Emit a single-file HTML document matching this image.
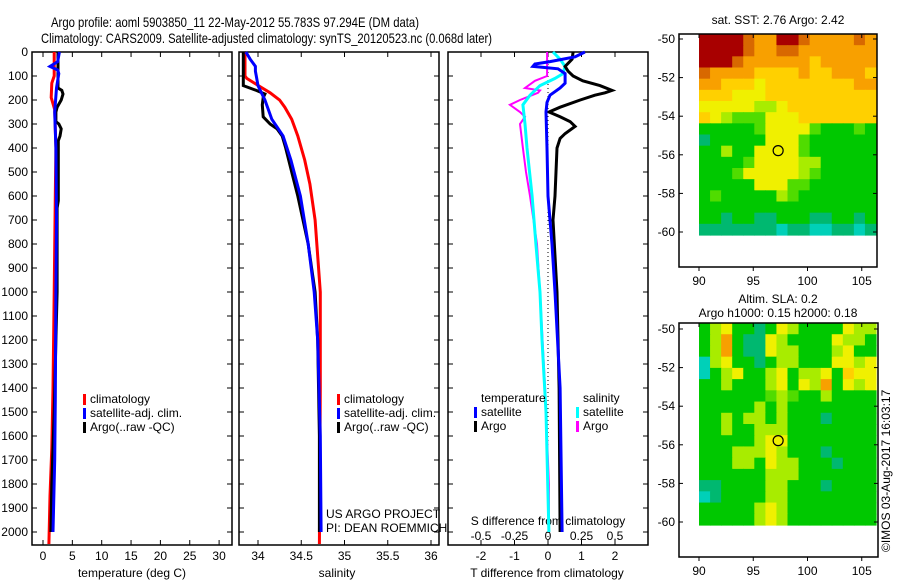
<!DOCTYPE html>
<html><head><meta charset="utf-8"><style>
html,body{margin:0;padding:0;background:#fff}
svg{display:block;font-family:"Liberation Sans",sans-serif}
</style></head><body>
<svg id="chart" width="900" height="580" viewBox="0 0 900 580" xmlns="http://www.w3.org/2000/svg">
<text x="51" y="27" font-size="14" textLength="368" lengthAdjust="spacingAndGlyphs">Argo profile: aoml 5903850_11 22-May-2012 55.783S 97.294E (DM data)</text>
<text x="41" y="43" font-size="14" textLength="451" lengthAdjust="spacingAndGlyphs">Climatology: CARS2009. Satellite-adjusted climatology: synTS_20120523.nc (0.068d later)</text>
<g id="g"></g>
</svg>
<script>
// ---------- data ----------
const depthTicks=[0,100,200,300,400,500,600,700,800,900,1000,1100,1200,1300,1400,1500,1600,1700,1800,1900,2000];
const tempTicks=[0,5,10,15,20,25,30];
const salTicks=[34,34.5,35,35.5,36];
const salTickLabels=["34","34.5","35","35.5","36"];
const tdiffTicks=[-2,-1,0,1,2];
const sdiffTicks=[-0.5,-0.25,0,0.25,0.5];
const sdiffTickLabels=["-0.5","-0.25","0","0.25","0.5"];

const tArgoDepth=[0,150,160,175,200,230,250,290,300,320,350,370,620,650,1000,1200,1500,1800,2000];
const tArgo=[2.55,2.55,3.2,3.4,3.1,2.4,2.2,2.2,2.7,3.1,2.9,2.6,2.6,2.4,2.4,2.2,1.9,1.5,1.35];
const tClimDepth=[0,100,130,190,240,400,600,1000,1400,1650,1850,2050];
const tClim=[1.9,1.9,1.5,1.4,2.0,2.2,2.1,1.9,1.7,1.5,1.2,1.0];
const tSatDepth=[0,40,60,75,90,150,250,400,700,1000,1450,1700,2000];
const tSat=[2.8,2.5,1.2,2.5,2.7,2.3,2.0,2.2,2.3,2.2,2.1,2.0,1.7];

const sArgoDepth=[0,140,160,175,190,220,270,300,320,350,400,500,600,700,800,900,1000,1200,1600,2000];
const sArgo=[33.83,33.83,33.98,34.08,34.06,34.05,34.06,34.14,34.22,34.28,34.32,34.39,34.46,34.52,34.58,34.62,34.66,34.69,34.71,34.71];
const sClimDepth=[0,100,110,150,170,200,230,280,350,450,550,700,850,1000,1400,2050];
const sClim=[33.85,33.85,33.87,34.05,34.14,34.25,34.31,34.39,34.46,34.54,34.60,34.66,34.69,34.72,34.72,34.71];
const sSatDepth=[0,30,60,80,100,140,200,280,350,450,600,800,1000,1200,1600,2000];
const sSat=[33.86,33.91,33.97,33.97,33.98,34.0,34.08,34.16,34.29,34.38,34.49,34.58,34.65,34.69,34.72,34.73];

const dTArgoDepth=[0,30,60,80,100,120,140,160,170,180,200,230,250,270,290,310,340,360,400,600,700,1000,1400,2000];
const dTArgo=[0.75,0.72,0.51,0.6,0.75,1.04,1.55,1.91,1.7,1.4,0.96,0.36,0.03,0.36,0.66,0.81,0.51,0.36,0.27,0.21,0.15,0.27,0.33,0.36];
const dTSatDepth=[0,20,40,50,60,70,90,130,150,180,210,250,400,600,800,1000,1400,2000];
const dTSat=[1.1,0.81,0.06,-0.39,-0.45,0.3,0.51,0.51,0.36,0.06,-0.03,-0.06,-0.03,0,0.12,0.21,0.36,0.42];
const dSSatDepth=[0,30,60,90,110,140,180,220,300,400,600,800,1000,1200,1500,2000];
const dSSat=[0.037,0.09,0.127,0.112,0.052,-0.06,-0.134,-0.187,-0.172,-0.157,-0.119,-0.09,-0.06,-0.045,-0.015,0.007];
const dSArgoDepth=[0,100,120,150,160,170,200,220,250,270,300,400,500,600,800,1000,1400,1800,2000];
const dSArgo=[-0.007,-0.007,-0.097,-0.172,-0.06,-0.075,-0.209,-0.284,-0.209,-0.172,-0.209,-0.187,-0.164,-0.134,-0.082,-0.06,-0.022,0.007,0.007];

const latTicks=[-50,-52,-54,-56,-58,-60];
const lonTicks=[90,95,100,105];
const sstGrid=["9999877998777787","9999877887777777","9998777777677777","8777766667667776","7766656666666677","6665556666666666","5555544566666666","6543335556666666","2222235555322232","1222225553222222","2242255553222222","2222355554422222","2223555554322222","2222255533222222","2322222432222222","2222222222222222","2212211222112212","1111111011001101"];
const slaGrid=["2452212542222544","2472115422225442","2472115442224522","0452212442225545","0245224524452655","2242224525472545","2222223432242222","2222242422222222","2242442422212222","2242244422222222","2222245522222222","2224445422212222","2224425442221222","2222224442222222","1122224422212222","0122224422222222","2222245422222222","2222245422222222"];
const argoLon=97.294, argoLat=-55.783;

// ---------- helpers ----------
const NS="http://www.w3.org/2000/svg";
const G=document.getElementById('g');
function el(tag,attrs,parent){const e=document.createElementNS(NS,tag);for(const k in attrs)e.setAttribute(k,attrs[k]);(parent||G).appendChild(e);return e;}
function txt(x,y,s,size,anchor,parent){const t=el('text',{x:x,y:y,'font-size':size||12,'text-anchor':anchor||'start'},parent);t.textContent=s;return t;}
const yD=d=>52+d*0.24;
const xT=v=>43+v*5.87;
const xS=v=>258+(v-34)*86.5;
const xDT=v=>548+v*33.5;
const xDS=v=>548+v*134;
const BOT=545, TOP=52;

function frame(x0,x1,name){
  const r=el('rect',{x:x0,y:TOP,width:x1-x0,height:BOT-TOP,fill:'none',stroke:'#000','stroke-width':1.5});
  
  
}
function line(xs,ds,sx,color,w,name){
  const p=el('polyline',{points:xs.map((v,i)=>sx(v).toFixed(1)+','+yD(ds[i]).toFixed(1)).join(' '),fill:'none',stroke:color,'stroke-width':w,'stroke-linejoin':'miter'});
  
  
}
function xticks(vals,labels,sx,name){
  const g=el('g',{});
  
  
  vals.forEach((v,i)=>{
    const x=sx(v);
    el('line',{x1:x,y1:TOP,x2:x,y2:TOP+5,stroke:'#000'},g);
    el('line',{x1:x,y1:BOT,x2:x,y2:BOT-5,stroke:'#000'},g);
    txt(x,560,labels[i],12,'middle',g);
  });
}
function legend(x,y,items,name){
  const g=el('g',{});
  
  
  items.forEach((it,i)=>{
    el('rect',{x:x,y:y+i*14-9,width:3,height:11,fill:it[1]},g);
    txt(x+7,y+i*14,it[0],12,'start',g);
  });
}

// ---------- panel 1: temperature ----------
frame(32,232,'temperature-panel');
const yt=el('g',{});


depthTicks.forEach(d=>{
  const y=yD(d);
  [[32,37],[232,227],[239,244],[439,434],[448,453],[648,643]].forEach(p=>el('line',{x1:p[0],y1:y,x2:p[1],y2:y,stroke:'#000'},yt));
  txt(28,y+4,String(d),12,'end',yt);
});
xticks(tempTicks,tempTicks.map(String),xT,'temperature-axis');
txt(132,577,'temperature (deg C)',12,'middle');
line(tClim,tClimDepth,xT,'#ff0000',3,'temp-climatology-line');
line(tArgo,tArgoDepth,xT,'#000',3,'temp-argo-line');
line(tSat,tSatDepth,xT,'#0000ff',3,'temp-satellite-line');
legend(83,403,[['climatology','#ff0000'],['satellite-adj. clim.','#0000ff'],['Argo(..raw -QC)','#000']],'temperature-legend');

// ---------- panel 2: salinity ----------
frame(239,439,'salinity-panel');
xticks(salTicks,salTickLabels,xS,'salinity-axis');
txt(337,577,'salinity',12,'middle');
line(sClim,sClimDepth,xS,'#ff0000',3,'sal-climatology-line');
line(sArgo,sArgoDepth,xS,'#000',3,'sal-argo-line');
line(sSat,sSatDepth,xS,'#0000ff',3,'sal-satellite-line');
legend(337,403,[['climatology','#ff0000'],['satellite-adj. clim.','#0000ff'],['Argo(..raw -QC)','#000']],'salinity-legend');
txt(326,518,'US ARGO PROJECT',12);
txt(326,532,'PI: DEAN ROEMMICH',12);

// ---------- panel 3: differences ----------
frame(448,648,'difference-panel');
el('line',{x1:548,y1:TOP,x2:548,y2:BOT,stroke:'#000','stroke-dasharray':'1,3'});
xticks(tdiffTicks,tdiffTicks.map(String),xDT,'t-difference-axis');
txt(547,577,'T difference from climatology',12,'middle');
const sg=el('g',{});


sdiffTicks.forEach((v,i)=>txt(xDS(v),540,sdiffTickLabels[i],12,'middle',sg));
txt(548,525,'S difference from climatology',12,'middle');
line(dSArgo,dSArgoDepth,xDS,'#ff00ff',2,'sdiff-argo-line');
line(dSSat,dSSatDepth,xDS,'#00ffff',3,'sdiff-satellite-line');
line(dTArgo,dTArgoDepth,xDT,'#000',3,'tdiff-argo-line');
line(dTSat,dTSatDepth,xDT,'#0000ff',3,'tdiff-satellite-line');
txt(481,402,'temperature',12);
txt(583,402,'salinity',12);
legend(474,416,[['satellite','#0000ff'],['Argo','#000']],'tdiff-legend');
legend(576,416,[['satellite','#00ffff'],['Argo','#ff00ff']],'sdiff-legend');

// ---------- maps ----------
const palette=['#00d0b8','#00b870','#00c800','#50dc00','#a8ec00','#f0f000','#ffd000','#f8a000','#d86800','#a80000'];
function map(grid,fx0,fx1,fy0,fy1,lat50,latSc,dataBot,name){
  const g=el('g',{});
  
  
  const lonX=v=>699+(v-90)*10.85;
  const latY=v=>lat50+(-50-v)*latSc;
  const x0=699,x1=876,y0=fy0,y1=dataBot;
  const rows=grid.length,cols=grid[0].length;
  const cw=(x1-x0)/cols,ch=(y1-y0)/rows;
  grid.forEach((r,i)=>{for(let j=0;j<cols;j++){
    el('rect',{x:(x0+j*cw).toFixed(2),y:(y0+i*ch).toFixed(2),width:(cw+0.6).toFixed(2),height:(ch+0.6).toFixed(2),fill:palette[+r[j]]},g);
  }});
  el('rect',{x:fx0,y:fy0,width:fx1-fx0,height:fy1-fy0,fill:'none',stroke:'#000','stroke-width':1.5},g);
  latTicks.forEach(v=>{const y=latY(v);
    el('line',{x1:fx0,y1:y,x2:fx0+4,y2:y,stroke:'#000'},g);
    el('line',{x1:fx1,y1:y,x2:fx1-4,y2:y,stroke:'#000'},g);
    txt(fx0-4,y+4,String(v),12,'end',g);});
  lonTicks.forEach(v=>{const x=lonX(v);
    el('line',{x1:x,y1:fy0,x2:x,y2:fy0+4,stroke:'#000'},g);
    el('line',{x1:x,y1:fy1,x2:x,y2:fy1+4,stroke:'#000'},g);
    txt(x,fy1+18,String(v),12,'middle',g);});
  const c=el('circle',{cx:lonX(argoLon),cy:latY(argoLat),r:5,fill:'none',stroke:'#000','stroke-width':1.2},g);
  
  
}
map(sstGrid,679,877,34,267,39,19.3,235,'sst-map');
map(slaGrid,679,878,323,557,329,19.3,525,'sla-map');
txt(778,24,'sat. SST: 2.76 Argo: 2.42',12,'middle');
txt(778,303,'Altim. SLA: 0.2',12,'middle');
txt(778,317,'Argo h1000: 0.15 h2000: 0.18',12,'middle');
const cr=txt(0,0,'©IMOS 03-Aug-2017 16:03:17',12,'start');
cr.setAttribute('transform','translate(890,552) rotate(-90)');

</script>
</body></html>
